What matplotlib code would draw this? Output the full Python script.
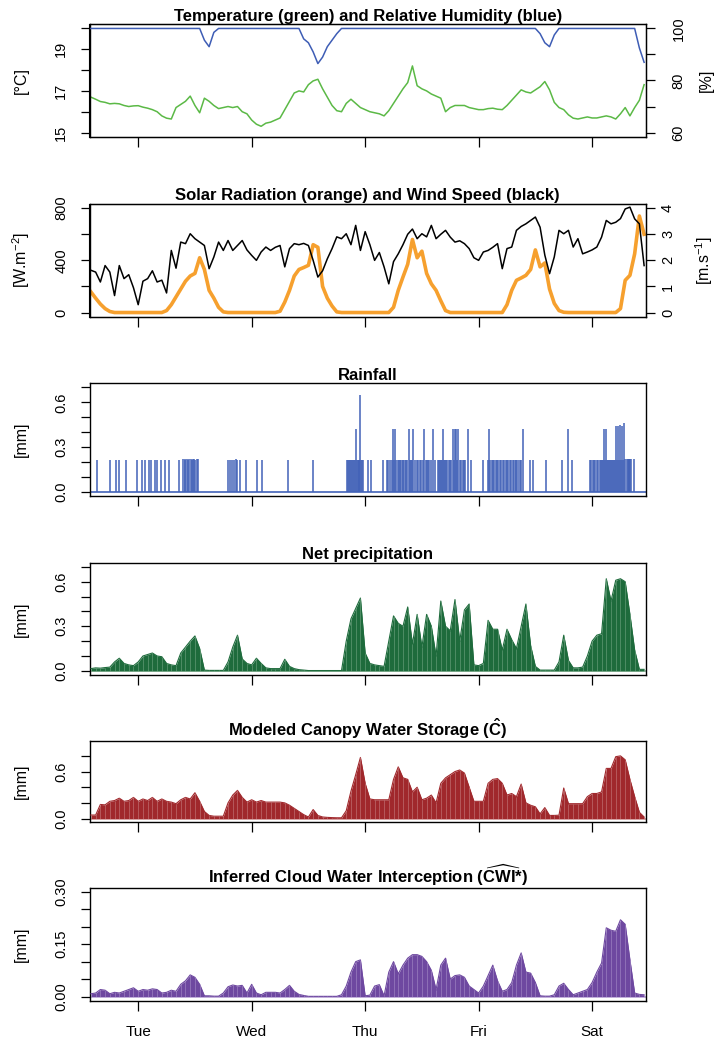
import numpy as np
import matplotlib
matplotlib.use("Agg")
import matplotlib.pyplot as plt

plt.rcParams['font.family'] = ['Liberation Sans', 'DejaVu Sans']
plt.rcParams['mathtext.fontset'] = 'custom'
plt.rcParams['mathtext.rm'] = 'Liberation Sans'
plt.rcParams['mathtext.bf'] = 'Liberation Sans:bold'
plt.rcParams['mathtext.it'] = 'Liberation Sans:italic'

# ---------------- data (time in hours from Tuesday 00:00) ----------------
hours = np.arange(-10, 108)
day_ticks = [0, 24, 48, 72, 96]
day_labels = ['Tue', 'Wed', 'Thu', 'Fri', 'Sat']

temperature = [
    16.70, 16.60, 16.49, 16.45, 16.38, 16.40, 16.38, 16.30, 16.25, 16.28,   # -10..-1
    16.29, 16.22, 16.17, 16.10, 16.00, 15.80, 15.69, 15.65, 16.20, 16.35,   # 0..9
    16.50, 16.75, 16.30, 15.95, 16.65, 16.50, 16.30, 16.15, 16.20, 16.25,   # 10..19
    16.20, 16.25, 16.00, 15.90, 15.60, 15.40, 15.30, 15.45, 15.50, 15.60,   # 20..29
    15.70, 16.10, 16.50, 16.90, 17.00, 16.95, 17.30, 17.48, 17.56, 17.10,   # 30..39
    16.70, 16.30, 16.05, 16.00, 16.40, 16.60, 16.40, 16.20, 16.10, 16.00,   # 40..49
    15.95, 15.90, 15.80, 16.05, 16.40, 16.75, 17.10, 17.40, 18.20, 17.25,   # 50..59
    17.10, 17.00, 16.85, 16.75, 16.65, 16.00, 16.20, 16.30, 16.30, 16.30,   # 60..69
    16.20, 16.15, 16.10, 16.10, 16.15, 16.17, 16.12, 16.10, 16.30, 16.55,   # 70..79
    16.80, 17.05, 16.95, 16.90, 17.05, 17.20, 17.45, 17.05, 16.45, 16.20,   # 80..89
    16.10, 15.85, 15.69, 15.65, 15.70, 15.75, 15.70, 15.70, 15.75, 15.80,   # 90..99
    15.75, 15.65, 15.90, 16.20, 15.80, 16.20, 16.55, 17.30]                 # 100..107

humidity = [
    100, 100, 100, 100, 100, 100, 100, 100, 100, 100,
    100, 100, 100, 100, 100, 100, 100, 100, 100, 100,
    100, 100, 100, 100, 95.5, 93, 98.5, 100, 100, 100,
    100, 100, 100, 100, 100, 100, 100, 100, 100, 100,
    100, 100, 100, 100, 100, 96, 94.5, 91, 86.5, 89,
    93, 95.5, 98, 100, 100, 100, 100, 100, 100, 100,
    100, 100, 100, 100, 100, 100, 100, 100, 100, 100,
    100, 100, 100, 100, 100, 100, 100, 100, 100, 100,
    100, 100, 100, 100, 100, 100, 100, 100, 100, 100,
    100, 100, 100, 100, 100, 98, 94.5, 93, 97.5, 100,
    100, 100, 100, 100, 100, 100, 100, 100, 100, 100,
    100, 100, 100, 100, 100, 100, 92.5, 87]

solar = [
    158, 110, 65, 30, 8, 0, 0, 0, 0, 0,
    0, 0, 0, 0, 0, 0, 15, 60, 120, 180,
    240, 280, 300, 420, 330, 170, 110, 40, 5, 0,
    0, 0, 0, 0, 0, 0, 0, 0, 0, 0,
    10, 80, 170, 280, 330, 345, 362, 520, 500, 200,
    110, 50, 5, 0, 0, 0, 0, 0, 0, 0,
    0, 0, 0, 0, 40, 170, 272, 370, 560, 420,
    470, 300, 220, 170, 90, 15, 0, 0, 0, 0,
    0, 0, 0, 0, 0, 0, 0, 0, 60, 170,
    247, 265, 285, 330, 480, 350, 380, 180, 70, 15,
    2, 0, 0, 0, 0, 0, 0, 0, 0, 0,
    0, 0, 30, 247, 285, 450, 740, 600]

wind = [
    1.62, 1.55, 1.17, 1.80, 1.55, 0.65, 1.80, 1.30, 1.45, 0.95,
    0.30, 1.20, 1.30, 1.60, 1.17, 1.24, 0.75, 2.38, 1.70, 2.70,
    2.64, 3.02, 2.83, 2.70, 2.57, 1.68, 2.13, 2.70, 2.38, 2.76,
    2.38, 2.57, 2.76, 2.40, 2.19, 2.00, 2.32, 2.51, 2.38, 2.50,
    2.57, 1.75, 2.45, 2.64, 2.60, 2.65, 2.57, 2.00, 1.36, 1.60,
    2.06, 2.45, 2.90, 2.83, 3.02, 2.60, 3.34, 2.38, 3.10, 2.60,
    2.00, 2.30, 1.75, 1.10, 1.95, 2.25, 2.60, 3.00, 3.20, 2.83,
    3.02, 2.90, 3.34, 2.83, 3.00, 3.15, 2.89, 2.70, 2.75, 2.64,
    2.45, 2.10, 2.00, 2.32, 2.38, 2.50, 2.64, 1.68, 2.45, 2.51,
    3.15, 3.30, 3.40, 3.53, 3.66, 3.27, 2.20, 1.49, 2.13, 3.15,
    3.02, 3.15, 2.51, 2.83, 2.25, 2.32, 2.40, 2.51, 2.89, 3.53,
    3.40, 3.46, 3.60, 3.97, 4.04, 3.59, 3.40, 1.80]

rain_hours = [
    -8.7, -6.0, -4.6, -4.0, -2.5, -0.3, 0.7, 1.5, 2.3, 2.8, 3.5, 4.0, 4.8, 5.6, 6.6,
    8.6, 9.5, 9.8, 10.0, 10.3, 10.6, 10.8, 11.1, 11.3, 11.6, 11.9, 12.1, 12.4, 12.6,
    19.0, 19.5, 19.8, 20.2, 20.6, 20.9, 21.5, 22.8, 25.2, 26.1, 31.6, 37.0,
    44.2, 44.4, 44.6, 44.8, 45.0, 45.2, 45.4, 45.6, 45.8, 46.0, 46.2, 46.4, 46.6, 46.8,
    47.0, 47.2, 47.4, 47.6, 48.6, 49.3, 51.8, 52.6, 52.9, 53.2, 53.6, 53.8, 54.1, 54.4,
    54.6, 54.9, 55.1, 55.4, 55.6, 55.9, 56.1, 56.4, 56.7, 56.9, 57.2, 57.5, 57.7, 58.0,
    58.2, 58.5, 58.9, 59.2, 59.5, 59.9, 60.2, 60.5, 60.8, 61.0, 61.3, 61.6, 62.0, 62.4,
    62.8, 63.4, 63.6, 63.9, 64.1, 64.3, 64.5, 64.7, 64.9, 65.2, 65.4, 65.7, 65.9, 66.2,
    66.5, 66.8, 67.0, 67.2, 67.5, 67.7, 68.0, 68.3, 68.6, 68.9, 69.1, 69.7, 70.3,
    73.0, 74.0, 74.2, 74.5, 74.8, 75.0, 75.3, 75.6, 75.9, 76.2, 76.5, 76.8, 77.1, 77.4,
    77.7, 78.0, 78.3, 78.6, 78.9, 79.2, 79.5, 79.8, 80.0, 80.4, 80.7, 81.0, 81.4, 82.8,
    83.5, 86.2, 89.7, 90.8, 91.8,
    95.5, 95.8, 96.1, 96.4, 96.7, 97.0, 97.3, 97.6, 97.9, 98.1, 98.3, 98.5, 98.7, 98.9,
    99.1, 99.3, 99.5, 99.8, 100.0, 100.2, 100.4, 100.6, 100.8, 101.1, 101.3, 101.5,
    101.7, 102.0, 102.2, 102.4, 102.6, 102.8, 103.0, 103.3, 103.5, 103.7, 103.9, 104.1,
    104.3, 104.8]

rain_mm = [
    0.21, 0.21, 0.21, 0.21, 0.21, 0.21, 0.21, 0.21, 0.21, 0.21, 0.21, 0.21, 0.21, 0.21, 0.21,
    0.21, 0.22, 0.21, 0.22, 0.22, 0.21, 0.22, 0.22, 0.21, 0.22, 0.22, 0.21, 0.22, 0.22,
    0.21, 0.21, 0.21, 0.21, 0.22, 0.21, 0.21, 0.21, 0.21, 0.21, 0.21, 0.21,
    0.21, 0.21, 0.21, 0.21, 0.21, 0.21, 0.21, 0.21, 0.21, 0.42, 0.21, 0.21, 0.21, 0.21,
    0.65, 0.21, 0.21, 0.21, 0.21, 0.21, 0.21, 0.21, 0.21, 0.21, 0.21, 0.42, 0.21, 0.42,
    0.21, 0.21, 0.21, 0.21, 0.21, 0.21, 0.21, 0.21, 0.21, 0.21, 0.42, 0.21, 0.21, 0.21,
    0.42, 0.21, 0.21, 0.21, 0.21, 0.21, 0.21, 0.42, 0.21, 0.21, 0.21, 0.21, 0.21, 0.42,
    0.21, 0.21, 0.21, 0.21, 0.21, 0.21, 0.42, 0.21, 0.21, 0.21, 0.21, 0.21, 0.21, 0.21,
    0.42, 0.21, 0.42, 0.42, 0.21, 0.42, 0.21, 0.21, 0.21, 0.21, 0.21, 0.42, 0.21,
    0.21, 0.21, 0.42, 0.21, 0.21, 0.21, 0.21, 0.21, 0.21, 0.21, 0.21, 0.21, 0.21, 0.21,
    0.21, 0.21, 0.21, 0.21, 0.21, 0.21, 0.21, 0.21, 0.21, 0.21, 0.21, 0.21, 0.42, 0.21,
    0.21, 0.21, 0.21, 0.42, 0.21,
    0.21, 0.21, 0.21, 0.21, 0.21, 0.21, 0.21, 0.21, 0.21, 0.21, 0.21, 0.42, 0.21, 0.42,
    0.21, 0.21, 0.21, 0.21, 0.21, 0.21, 0.21, 0.21, 0.21, 0.44, 0.21, 0.44,
    0.21, 0.45, 0.21, 0.44, 0.21, 0.46, 0.22, 0.22, 0.22, 0.22, 0.22, 0.22,
    0.22, 0.22]

net_precip = [
    0.015, 0.020, 0.018, 0.022, 0.025, 0.060, 0.085, 0.050, 0.040, 0.035,
    0.060, 0.100, 0.110, 0.120, 0.100, 0.095, 0.050, 0.040, 0.035, 0.120,
    0.160, 0.200, 0.235, 0.150, 0.005, 0.003, 0.003, 0.003, 0.003, 0.060,
    0.160, 0.240, 0.080, 0.050, 0.040, 0.085, 0.050, 0.020, 0.015, 0.015,
    0.015, 0.078, 0.030, 0.015, 0.008, 0.005, 0.002, 0.002, 0.002, 0.002,
    0.002, 0.002, 0.002, 0.002, 0.200, 0.350, 0.420, 0.490, 0.120, 0.050,
    0.040, 0.035, 0.030, 0.200, 0.370, 0.320, 0.300, 0.430, 0.180, 0.380,
    0.160, 0.380, 0.300, 0.100, 0.470, 0.300, 0.270, 0.480, 0.200, 0.410,
    0.450, 0.040, 0.035, 0.050, 0.340, 0.280, 0.280, 0.140, 0.280, 0.210,
    0.150, 0.300, 0.450, 0.170, 0.030, 0.005, 0.005, 0.005, 0.005, 0.060,
    0.240, 0.070, 0.020, 0.020, 0.025, 0.100, 0.200, 0.240, 0.250, 0.620,
    0.470, 0.610, 0.620, 0.600, 0.380, 0.140, 0.010, 0.010]

canopy = [
    0.045, 0.045, 0.180, 0.175, 0.220, 0.230, 0.260, 0.220, 0.230, 0.270,
    0.220, 0.250, 0.230, 0.270, 0.220, 0.250, 0.220, 0.210, 0.190, 0.240,
    0.270, 0.250, 0.330, 0.220, 0.090, 0.040, 0.030, 0.030, 0.030, 0.200,
    0.300, 0.360, 0.270, 0.210, 0.240, 0.210, 0.230, 0.210, 0.210, 0.210,
    0.210, 0.200, 0.170, 0.130, 0.090, 0.050, 0.020, 0.115, 0.040, 0.020,
    0.015, 0.012, 0.010, 0.010, 0.100, 0.350, 0.560, 0.780, 0.450, 0.250,
    0.240, 0.240, 0.240, 0.240, 0.500, 0.660, 0.520, 0.500, 0.340, 0.400,
    0.240, 0.260, 0.300, 0.200, 0.450, 0.520, 0.560, 0.600, 0.620, 0.580,
    0.400, 0.220, 0.220, 0.220, 0.450, 0.500, 0.510, 0.450, 0.300, 0.320,
    0.280, 0.440, 0.200, 0.170, 0.150, 0.060, 0.140, 0.040, 0.040, 0.043,
    0.390, 0.190, 0.190, 0.190, 0.190, 0.280, 0.320, 0.320, 0.340, 0.640,
    0.640, 0.790, 0.800, 0.750, 0.500, 0.280, 0.080, 0.020]

cwi = [
    0.008, 0.010, 0.020, 0.018, 0.008, 0.012, 0.010, 0.015, 0.020, 0.025,
    0.015, 0.020, 0.018, 0.022, 0.020, 0.010, 0.012, 0.018, 0.015, 0.035,
    0.045, 0.062, 0.055, 0.035, 0.002, 0.002, 0.001, 0.001, 0.010, 0.028,
    0.033, 0.030, 0.032, 0.010, 0.035, 0.010, 0.005, 0.012, 0.012, 0.012,
    0.010, 0.020, 0.032, 0.015, 0.006, 0.003, 0.0005, 0.0005, 0.0005, 0.0005,
    0.0005, 0.0005, 0.0005, 0.005, 0.030, 0.070, 0.100, 0.105, 0.002, 0.004,
    0.030, 0.034, 0.002, 0.070, 0.100, 0.065, 0.090, 0.110, 0.120, 0.120,
    0.115, 0.100, 0.075, 0.020, 0.090, 0.110, 0.050, 0.060, 0.062, 0.055,
    0.030, 0.020, 0.010, 0.030, 0.060, 0.090, 0.045, 0.015, 0.020, 0.040,
    0.090, 0.125, 0.070, 0.067, 0.040, 0.002, 0.001, 0.001, 0.005, 0.030,
    0.038, 0.020, 0.005, 0.010, 0.015, 0.020, 0.040, 0.070, 0.096, 0.197,
    0.190, 0.187, 0.220, 0.207, 0.105, 0.010, 0.006, 0.005]

# ---------------- layout (pixels) ----------------
W, H = 719, 1045
fig = plt.figure(figsize=(W / 100, H / 100), dpi=100)
LEFT, RIGHT = 89.5, 646.0
XLIM = (-10.3, 107.4)


def add_panel(top, bottom):
    return fig.add_axes([LEFT / W, 1 - bottom / H, (RIGHT - LEFT) / W, (bottom - top) / H])


def style(ax, bottom_labels=False):
    for s in ax.spines.values():
        s.set_linewidth(1.0)
        s.set_color('black')
    ax.set_xlim(*XLIM)
    ax.set_xticks(day_ticks)
    ax.tick_params(axis='x', direction='out', length=7.2, width=0.9, pad=10.5, labelsize=11)
    if bottom_labels:
        ax.set_xticklabels(day_labels)
    else:
        ax.set_xticklabels([])


def yaxis(ax, ticks, labels, side='left', pad=8.5):
    ax.set_yticks(ticks)
    ax.set_yticklabels(labels, rotation=90, va='center',
                       ha='right' if side == 'left' else 'left', fontsize=10.5)
    ax.tick_params(axis='y', direction='out', length=6.8, width=0.9, pad=pad)


def ylab(text, ypix, xpix=21):
    fig.text(xpix / W, 1 - ypix / H, text, rotation=90, ha='center', va='center', fontsize=11.5)


def area(ax, values, color, stripe):
    ax.axhline(0, color=stripe, lw=1.2, zorder=1)
    ax.fill_between(hours, 0, values, color=color, lw=0, zorder=2)
    ax.plot(hours, values, color=color, lw=0.8, zorder=3)
    ax.vlines(hours, 0, values, color=stripe, lw=0.5, alpha=0.6, zorder=4)


TITLE_KW = dict(fontsize=12, fontweight='bold', pad=2.6)

# Panel 1: temperature / humidity
ax1 = add_panel(24.3, 136.7)
style(ax1)
ax1.plot(hours, temperature, color='#5BB946', lw=1.1)
ax1.set_ylim(14.8, 20.2)
yaxis(ax1, [15, 16, 17, 18, 19, 20], ['15', '', '17', '', '19', ''])
ax1.set_title('Temperature (green) and Relative Humidity (blue)', **TITLE_KW)
ax1b = ax1.twinx()
ax1b.plot(hours, humidity, color='#3E5DB5', lw=1.1)
ax1b.set_ylim(58.4, 101.6)
yaxis(ax1b, [60, 70, 80, 90, 100], ['60', '', '80', '', '100'], side='right', pad=11.5)
ax1b.set_xlim(*XLIM)
ylab('[°C]', 80.5)
ylab('[%]', 80.5, 706)

# Panel 2: solar radiation / wind speed
ax2 = add_panel(204.0, 316.7)
style(ax2)
ax2.plot(hours, solar, color='#F6A02E', lw=2.6, zorder=2)
ax2.set_ylim(-32, 832)
yaxis(ax2, [0, 200, 400, 600, 800], ['0', '', '400', '', '800'])
ax2.set_title('Solar Radiation (orange) and Wind Speed (black)', **TITLE_KW)
ax2b = ax2.twinx()
ax2b.plot(hours, wind, color='black', lw=1.1)
ax2b.set_ylim(-0.16, 4.16)
yaxis(ax2b, [0, 1, 2, 3, 4], ['0', '1', '2', '3', '4'], side='right', pad=4)
ax2b.set_xlim(*XLIM)
ylab('[W.m$^{-2}$]', 260.3)
ylab('[m.s$^{-1}$]', 260.3, 704)

# Panel 3: rainfall
ax3 = add_panel(383.3, 495.7)
style(ax3)
ax3.axhline(0, color='#4262B8', lw=1.2)
ax3.vlines(rain_hours, 0, rain_mm, color='#4262B8', lw=1.1)
ax3.set_ylim(-0.028, 0.728)
yaxis(ax3, [0, 0.1, 0.2, 0.3, 0.4, 0.5, 0.6, 0.7], ['0.0', '', '', '0.3', '', '', '0.6', ''])
ax3.set_title('Rainfall', **TITLE_KW)
ylab('[mm]', 439.5)

# Panel 4: net precipitation
ax4 = add_panel(562.7, 675.0)
style(ax4)
area(ax4, net_precip, '#1E6B3C', '#8DB89A')
ax4.set_ylim(-0.028, 0.728)
yaxis(ax4, [0, 0.1, 0.2, 0.3, 0.4, 0.5, 0.6, 0.7], ['0.0', '', '', '0.3', '', '', '0.6', ''])
ax4.set_title('Net precipitation', **TITLE_KW)
ylab('[mm]', 618.8)

# Panel 5: canopy water storage
ax5 = add_panel(741.0, 821.7)
style(ax5)
area(ax5, canopy, '#A0282C', '#D49A9C')
ax5.set_ylim(-0.04, 0.99)
yaxis(ax5, [0, 0.2, 0.4, 0.6, 0.8], ['0.0', '', '', '0.6', ''])
ax5.set_title(r'Modeled Canopy Water Storage ($\mathbf{\hat{C}}$)', **TITLE_KW)
ylab('[mm]', 781.3)

# Panel 6: cloud water interception
ax6 = add_panel(887.7, 1000.7)
style(ax6, bottom_labels=True)
area(ax6, cwi, '#6E48A0', '#B9A3D6')
ax6.set_ylim(-0.012, 0.312)
yaxis(ax6, [0, 0.05, 0.1, 0.15, 0.2, 0.25, 0.3], ['0.00', '', '', '0.15', '', '', '0.30'])
ax6.set_title(r'Inferred Cloud Water Interception ($\mathbf{\widehat{CWI}}$*)', **TITLE_KW)
ylab('[mm]', 944.2)

fig.savefig('out.png', dpi=100)
